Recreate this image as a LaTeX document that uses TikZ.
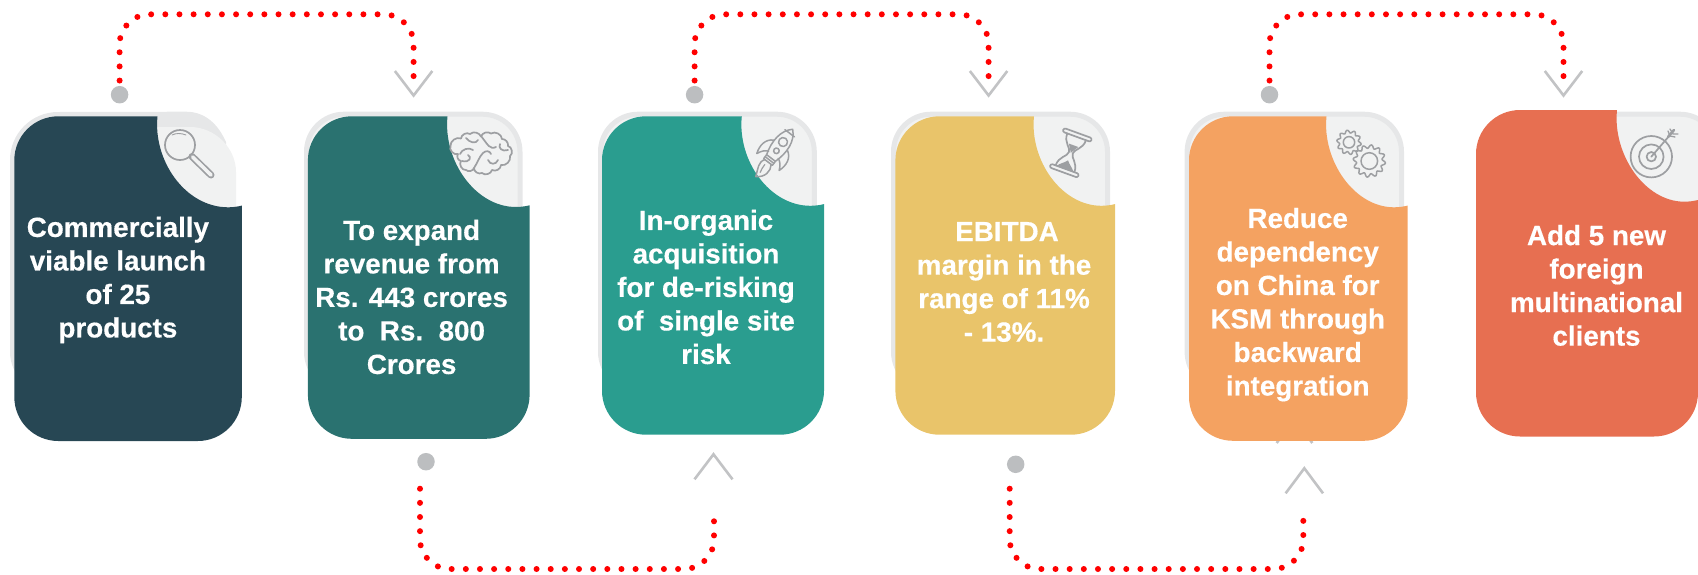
\documentclass[tikz,border=0pt]{standalone}
\usepackage{fontspec}
\setmainfont[BoldFeatures={FakeBold=0.4}]{Liberation Sans}
\definecolor{cA}{HTML}{274754}
\definecolor{cB}{HTML}{2A7270}
\definecolor{cC}{HTML}{2A9D8F}
\definecolor{cD}{HTML}{E9C46A}
\definecolor{cE}{HTML}{F4A261}
\definecolor{cF}{HTML}{E76F51}
\definecolor{backedge}{HTML}{E6E7E8}
\definecolor{backfill}{HTML}{F1F2F2}
\definecolor{dotgrey}{HTML}{BCBEC0}
\definecolor{chevgrey}{HTML}{C2C3C5}
\definecolor{icongrey}{HTML}{9D9FA2}
\tikzset{
  redline/.style={draw=red,line width=6pt,line cap=round,dash pattern=on 0pt off 14.15pt,rounded corners=30pt},
  greydot/.style={circle,fill=dotgrey,minimum size=17.5pt,inner sep=0pt},
  chev/.style={draw=chevgrey,line width=2.6pt,line cap=butt,line join=miter},
  cardtext/.style={text=white,align=center,inner sep=0pt,font=\fontsize{27.8pt}{33.5pt}\selectfont\bfseries},
  icon/.style={draw=icongrey,line width=1.7pt,line cap=round,line join=round},
  backpanel/.style={draw=backedge,fill=backfill,line width=5pt},
}
% l r t b notchx notchy colour
\newcommand\cardshape[7]{%
  \fill[#7] (#1,#3+44) arc[start angle=180,end angle=90,radius=44pt] -- (#5,#3)
    .. controls (#5-4.5,#3+44) and (#5+27.5,#6) .. (#2-13.6,#6)
    .. controls (#2-9,#6) and (#2-4,#6-0.7) .. (#2,#6-1.7)
    -- (#2,#4-44) arc[start angle=0,end angle=-90,radius=44pt]
    -- (#1+44,#4) arc[start angle=270,end angle=180,radius=44pt] -- cycle;}
% l r top bottom
\newcommand\backshape[4]{%
  \path[backpanel] (#1+2.5,#3+40) arc[start angle=180,end angle=90,radius=37.5pt]
    -- (#2-40,#3+2.5) arc[start angle=90,end angle=0,radius=37.5pt]
    -- (#2-2.5,#4-40) arc[start angle=0,end angle=-90,radius=37.5pt]
    -- (#1+40,#4-2.5) arc[start angle=270,end angle=180,radius=37.5pt] -- cycle;}
% x apex, y apex, half width, arm dy
\newcommand\chevron[4]{\draw[chev] (#1-#3,#2+#4) -- (#1,#2) -- (#1+#3,#2+#4);}
\begin{document}
\begin{tikzpicture}[x=1pt,y=-1pt]
\useasboundingbox (0,0) rectangle (1698,574);
% back panels
\backshape{304}{522.5}{111.7}{392}
\backshape{598}{816.8}{111.7}{392}
\backshape{891}{1110}{111.7}{392}
\backshape{1184.6}{1404}{111.7}{392}
\backshape{1480}{1720}{111.7}{392}
% first panel: grey edge with a lighter sheet on it
\fill[backedge] (10,160) arc[start angle=180,end angle=90,radius=48pt] -- (186,111.7)
   .. controls (205,111.7) and (218,124) .. (226,142) -- (226,392) -- (50,392) arc[start angle=270,end angle=180,radius=40pt] -- cycle;
\fill[backfill] (150,127) -- (190,127) .. controls (215,127) and (236,148) .. (236,172) -- (236,215) -- (150,215) -- cycle;
% hidden chevron behind the fifth card
\draw[chev] (1276.7,443) -- (1294.5,418) -- (1312.3,443);
% cards
\cardshape{14.3}{241.8}{116.3}{441}{157.5}{207.3}{cA}
\cardshape{307.9}{529.6}{116.3}{438.8}{447.5}{207}{cB}
\cardshape{602}{824}{116.3}{434.7}{741.8}{205.8}{cC}
\cardshape{895.4}{1115}{116.3}{434.7}{1034}{205.8}{cD}
\cardshape{1189}{1407.6}{116.3}{440.8}{1326.5}{207.3}{cE}
\cardshape{1476}{1698}{110}{436.5}{1617}{201.7}{cF}
% card texts
\node[cardtext] (t1) at (117.9,280) {Commercially\\viable launch\\of 25\\products};
\node[cardtext] (t2) at (411.6,297) {To expand\\revenue from\\Rs. 443 crores\\to~~Rs.~~800\\Crores};
\node[cardtext] (t3) at (706,287) {In-organic\\acquisition\\for de-risking\\of~~single site\\risk};
\node[cardtext] (t4) at (1004,282) {\hspace*{6pt}EBITDA\\margin in the\\range of 11\%\\- 13\%.};
\node[cardtext] (t5) at (1297.7,304.6) {Reduce\\dependency\\on China for\\KSM through\\backward\\integration};
\node[cardtext] (t6) at (1596.5,285.4) {Add 5 new\\foreign\\multinational\\clients};
% connectors
\coordinate (c1) at (413.6,95.5);
\coordinate (c2) at (988.6,95.5);
\coordinate (c3) at (1563.5,95.5);
\coordinate (c4) at (713.5,454.3);
\coordinate (c5) at (1304.3,468.3);
\coordinate (d1p) at (119.6,94.7);
\coordinate (d2p) at (694.6,94.7);
\coordinate (d3p) at (1269.5,94.7);
\coordinate (a1) at (119.6,14.3);\coordinate (b1) at (413.6,14.3);
\coordinate (a2) at (694.6,14.3);\coordinate (b2) at (988.6,14.3);
\coordinate (a3) at (1269.5,14.3);\coordinate (b3) at (1563.5,14.3);
\coordinate (s4) at (420,488.7);\coordinate (e4) at (714,508);
\coordinate (p4) at (420,569);\coordinate (q4) at (714,569);
\coordinate (s5) at (1009.7,488.7);\coordinate (e5) at (1303.3,508);
\coordinate (p5) at (1009.7,569);\coordinate (q5) at (1303.3,569);
\draw[redline,shorten >=14pt] (d1p) -- (a1) -- (b1) -- (c1);
\draw[redline,shorten >=14pt] (d2p) -- (a2) -- (b2) -- (c2);
\draw[redline,shorten >=14pt] (d3p) -- (a3) -- (b3) -- (c3);
\draw[redline] (s4) -- (p4) -- (q4) -- (e4);
\draw[redline] (s5) -- (p5) -- (q5) -- (e5);
\node[greydot] (d1) at (d1p) {};
\node[greydot] (d2) at (d2p) {};
\node[greydot] (d3) at (d3p) {};
\node[greydot] (d4) at (426,461.7) {};
\node[greydot] (d5) at (1015.7,464.3) {};
\chevron{413.6}{95.5}{18.7}{-24.5}
\chevron{988.6}{95.5}{18.7}{-24.5}
\chevron{1563.5}{95.5}{18.7}{-24.5}
\chevron{713.5}{454.3}{19}{25}
\chevron{1304.3}{468.3}{18.7}{25}
% magnifier
\draw[icon] (180,145) circle[radius=15pt];
\draw[icon,line width=0.9pt] (172,135) .. controls (176,133) and (181,133) .. (186,135);
\draw[icongrey,line width=7pt,line cap=round] (192,156.5) -- (211,175);
\draw[backfill,line width=3.6pt,line cap=round] (192.6,157) -- (211,175);
% brain
\draw[icon] (450.5,146) to[bend left=60] (461,138.5) to[bend left=60] (470,134) to[bend left=55] (481,136.5)
  to[bend left=55] (491,133.5) to[bend left=60] (502,139) to[bend left=50] (508,146) to[bend left=70] (510,156)
  to[bend left=60] (501,165) to[bend left=60] (492,170) to[bend left=60] (482,173) to[bend left=60] (474,168)
  to[bend left=60] (466,170) to[bend left=70] (461,161) to[bend left=60] (458,154) to[bend left=70] cycle;
\draw[icon] (466,138) .. controls (470,143) and (476,144) .. (478,140);
\draw[icon] (460,154) .. controls (462,149) and (469,147) .. (473,150);
\draw[icon] (462,161) .. controls (470,163) and (472,157) .. (468,155);
\draw[icon] (481,136) .. controls (488,145) and (490,150) .. (496,147);
\draw[icon] (474,168) .. controls (478,162) and (479,157) .. (483,153) .. controls (486,150) and (490,151) .. (491,154);
\draw[icon] (488,160) .. controls (490,165) and (496,165) .. (498,160);
\draw[icon] (500,144) .. controls (498,148) and (502,152) .. (508,150);
% rocket
\begin{scope}[shift={(771,158)},rotate=-37]
  \draw[icon,line width=1.5pt] (-5.5,0) .. controls (-10,-14) and (-9,-28) .. (0,-36) .. controls (9,-28) and (10,-14) .. (5.5,0) -- cycle;
  \draw[icon,line width=1.5pt] (-6,-31) -- (6,-31);
  \draw[icon,line width=1.5pt] (0,-20) circle[radius=4.5pt];
  \draw[icon,line width=1.5pt] (0,-9) circle[radius=2.8pt];
  \draw[icon,line width=1.5pt] (-8.5,-16) .. controls (-16,-12) and (-17,-3) .. (-14,5) .. controls (-12,0) and (-9,-3) .. (-6,-4);
  \draw[icon,line width=1.5pt] (8.5,-16) .. controls (16,-12) and (17,-3) .. (14,5) .. controls (12,0) and (9,-3) .. (6,-4);
  \draw[icon,line width=1.5pt] (-5.5,0) -- (-5.5,5) -- (5.5,5) -- (5.5,0);
  \draw[icon,line width=1.5pt] (-5.5,2.5) -- (5.5,2.5);
  \draw[icon,line width=1.5pt] (-4,5) .. controls (-8,11) and (-4,16) .. (-1,24) .. controls (7,19) and (8,11) .. (4,5);
  \draw[icon,line width=1.2pt] (-1,9) .. controls (-2,12) and (0,15) .. (0,18);
\end{scope}
% hourglass
\begin{scope}[shift={(1070.8,152.8)},rotate=-20]
  \draw[icon,rounded corners=2pt] (-15,-21) rectangle (15,-17);
  \draw[icon,rounded corners=2pt] (-15,17) rectangle (15,21);
  \draw[icon] (-10,-17) .. controls (-10,-7) and (-2,-5) .. (-2,0) .. controls (-2,5) and (-10,7) .. (-10,17);
  \draw[icon] (10,-17) .. controls (10,-7) and (2,-5) .. (2,0) .. controls (2,5) and (10,7) .. (10,17);
  \fill[icongrey] (-5,-8) -- (5,-8) -- (0,0) -- cycle;
  \fill[icongrey] (-9,17) .. controls (-6,13) and (-3,12) .. (0,8) .. controls (3,12) and (6,13) .. (9,17) -- cycle;
\end{scope}
% gears
\draw[icon,line width=1.5pt] plot[domain=0:360,samples=145] ({1349+(10.8+1.4*sin(10*\x))*cos(\x)},{142.3+(10.8+1.4*sin(10*\x))*sin(\x)});
\draw[icon,line width=1.5pt] (1349,142.3) circle[radius=5.7pt];
\draw[icon,line width=1.5pt] plot[domain=0:360,samples=145] ({1369.3+(14.5+1.7*sin(12*\x))*cos(\x)},{161+(14.5+1.7*sin(12*\x))*sin(\x)});
\draw[icon,line width=1.5pt] (1369.3,161) circle[radius=8.3pt];
% target
\draw[icon] (1651.3,156.7) circle[radius=20.7pt];
\draw[icon] (1651.3,156.7) circle[radius=12.3pt];
\draw[icon] (1651.3,156.7) circle[radius=4.7pt];
\draw[icon] (1651.3,156.7) -- (1670,135);
\draw[icon,line width=2.6pt] (1668,137) -- (1674,130);
\draw[icon,line width=1.3pt] (1668,131) -- (1670,136) -- (1675,137);
\draw[icon,line width=1.3pt] (1670,129) -- (1673,134) -- (1678,134);
\end{tikzpicture}
\end{document}
